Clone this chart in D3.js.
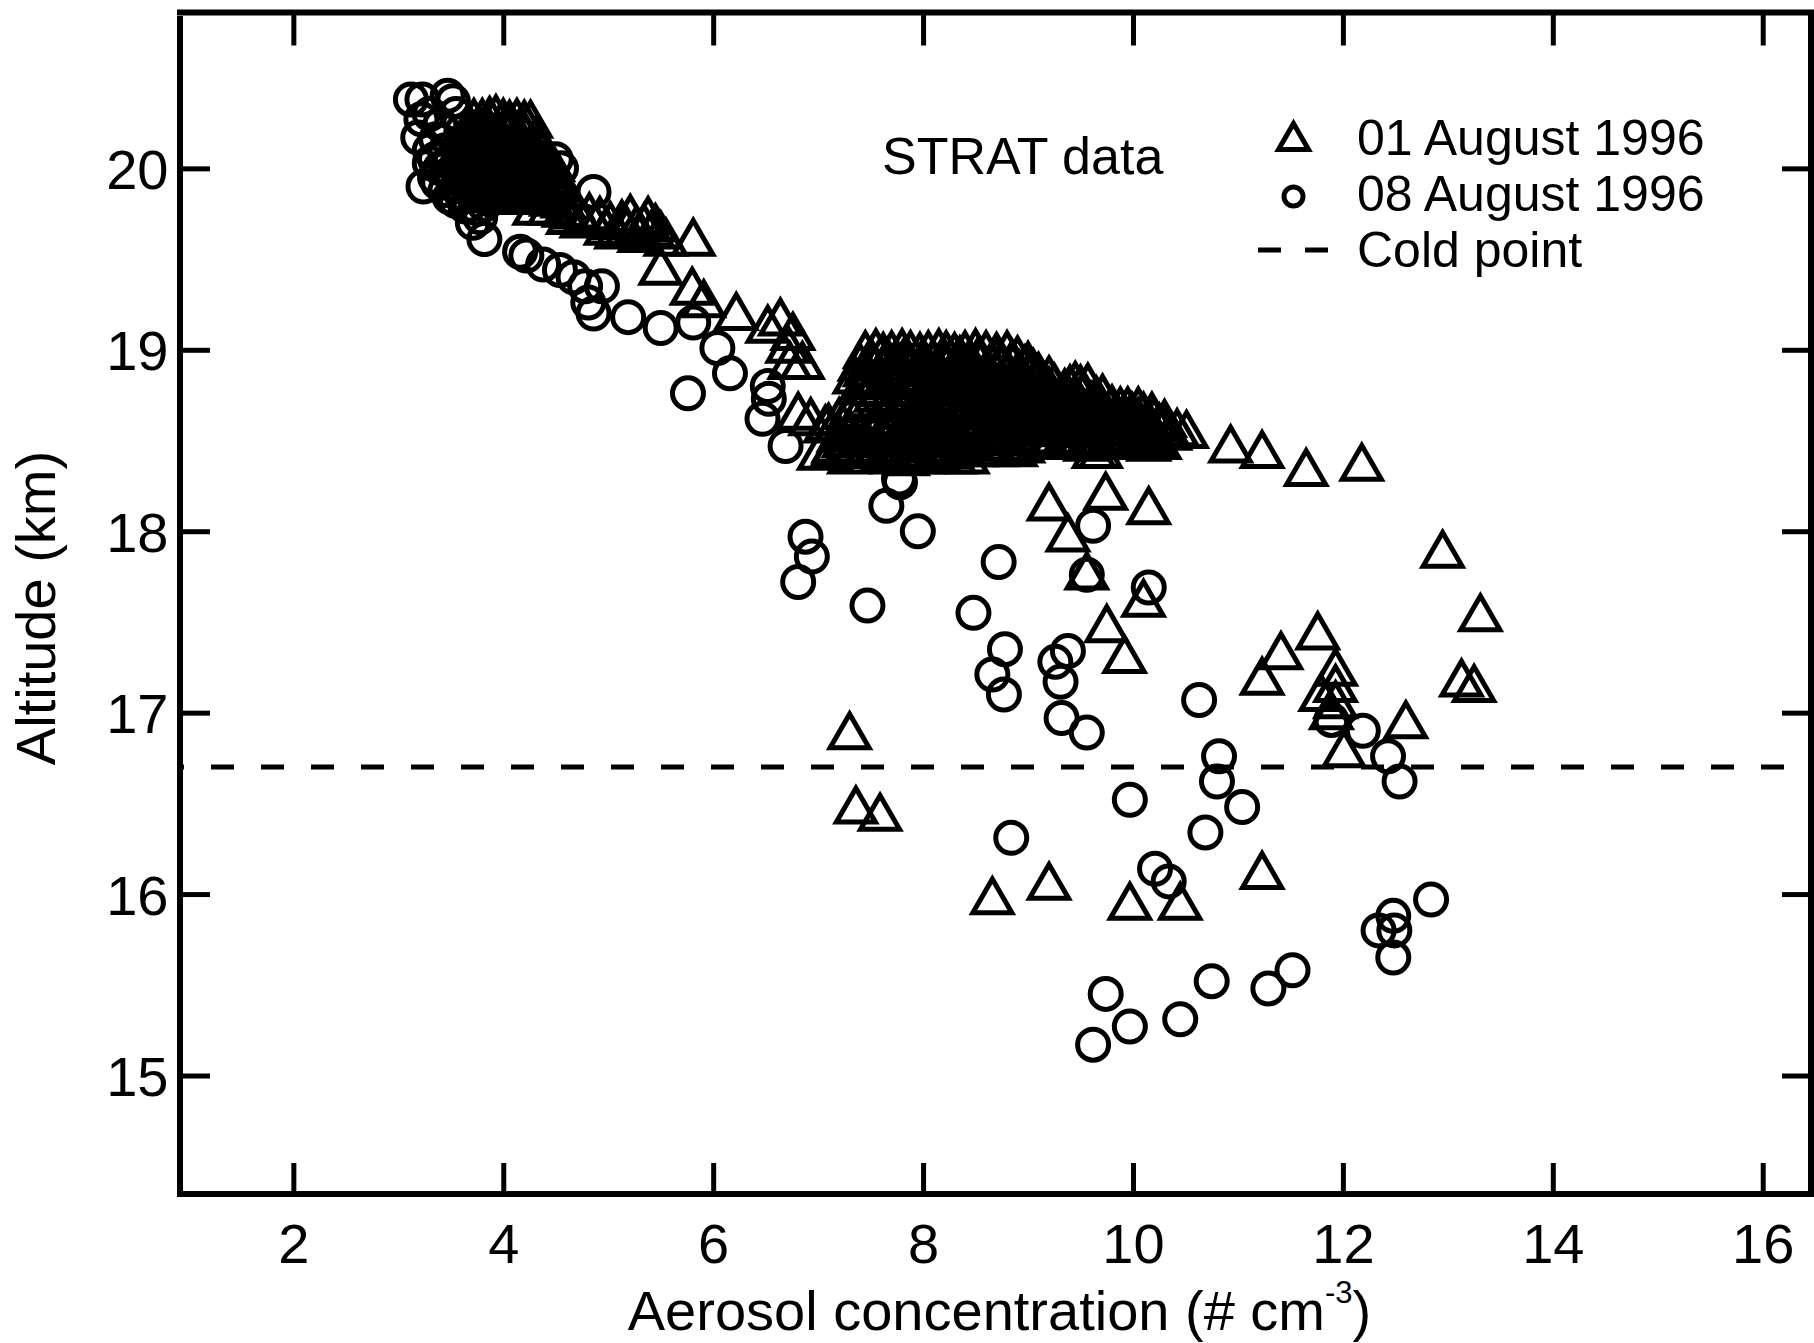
<!DOCTYPE html>
<html>
<head>
<meta charset="utf-8">
<script src="https://cdn.jsdelivr.net/npm/d3@7"></script>
<style>
  html, body { margin: 0; padding: 0; background: #fff; }
  svg { display: block; }
  text { font-family: "Liberation Sans", Arial, Helvetica, sans-serif; fill: #000; }
</style>
</head>
<body>
<script>
// STRAT aerosol profiles: [concentration (# cm^-3), altitude (km)]
const aug01 = [
  // upper cluster
  [3.72,20.28],[3.80,20.28],[3.87,20.29],[3.93,20.30],[4.00,20.28],[4.06,20.27],[4.13,20.28],[4.20,20.27],[4.26,20.27],
  [3.68,20.24],[3.84,20.25],[4.02,20.24],[4.17,20.23],
  [3.64,20.21],[3.71,20.21],[3.79,20.22],[3.88,20.21],[3.96,20.20],[4.05,20.21],[4.14,20.20],[4.22,20.19],[4.31,20.18],
  [3.66,20.17],[3.82,20.17],[3.99,20.16],[4.16,20.16],[4.34,20.15],
  [3.62,20.14],[3.70,20.14],[3.78,20.13],[3.86,20.14],[3.95,20.13],[4.03,20.14],[4.12,20.13],[4.21,20.12],[4.30,20.11],[4.37,20.10],
  [3.64,20.10],[3.81,20.10],[3.98,20.09],[4.15,20.09],[4.33,20.08],[4.42,20.07],
  [3.60,20.07],[3.68,20.07],[3.77,20.06],[3.85,20.07],[3.94,20.06],[4.02,20.07],[4.11,20.06],[4.20,20.05],[4.29,20.05],[4.38,20.04],[4.47,20.03],
  [3.63,20.03],[3.81,20.03],[4.00,20.02],[4.19,20.02],[4.38,20.01],
  [3.58,20.00],[3.67,20.00],[3.76,19.99],[3.86,20.00],[3.95,19.99],[4.05,20.00],[4.14,19.99],[4.24,19.98],[4.33,19.97],[4.43,19.96],[4.52,19.95],
  [3.66,19.96],[3.88,19.96],[4.10,19.95],[4.31,19.94],[4.50,19.92],
  [3.62,19.93],[3.72,19.93],[3.83,19.92],[3.94,19.93],[4.05,19.92],[4.16,19.91],[4.27,19.91],[4.38,19.90],[4.49,19.89],[4.58,19.88],
  [3.78,19.89],[4.00,19.89],[4.20,19.88],[4.42,19.87],
  [3.86,19.86],[3.98,19.86],[4.10,19.85],[4.22,19.86],[4.34,19.85],[4.46,19.84],[4.57,19.83],[4.66,19.82],
  [4.30,19.79],[4.44,19.79],[4.58,19.78],[4.70,19.77],[4.82,19.76],[4.62,19.74],[4.75,19.72],
  // descending trail
  [4.92,19.74],[5.02,19.71],[5.13,19.72],[5.21,19.75],[5.27,19.69],[5.34,19.70],[5.42,19.67],[5.50,19.66],
  [4.98,19.68],[5.08,19.66],[5.18,19.68],[5.30,19.64],[5.45,19.70],[5.55,19.62],[5.38,19.74],
  [5.81,19.62],[5.50,19.46],[5.80,19.35],[5.91,19.28],[6.22,19.21],[6.52,19.14],[6.64,19.18],[6.76,19.10],
  [6.71,19.03],[6.73,18.94],[6.85,18.94],[6.81,18.66],[6.93,18.63],[7.07,18.59],[7.14,18.46],[7.01,18.44],
  // main layer near 18.4-19.0 km
  [7.45,19.00],[7.55,19.01],[7.62,18.99],[7.70,19.00],[7.80,19.01],[7.88,19.00],[7.97,18.99],[8.05,19.00],[8.15,19.01],
  [8.22,19.00],[8.30,18.99],[8.40,19.00],[8.50,19.01],[8.60,19.00],[8.70,18.99],[8.80,19.00],[8.90,18.97],
  [7.50,18.96],[7.66,18.96],[7.83,18.97],[8.00,18.96],[8.18,18.96],[8.35,18.97],[8.52,18.96],[8.70,18.96],[8.85,18.95],[9.00,18.94],
  [7.40,18.93],[7.52,18.94],[7.75,18.93],[7.85,18.92],[8.00,18.93],[8.10,18.94],[8.20,18.93],[8.35,18.92],[8.45,18.93],
  [8.55,18.94],[8.65,18.93],[8.75,18.92],[8.85,18.93],[8.97,18.92],[9.05,18.90],
  [7.45,18.90],[7.62,18.90],[7.95,18.90],[8.15,18.89],[8.30,18.90],[8.48,18.90],[8.60,18.89],[8.80,18.90],[8.92,18.89],[9.10,18.88],
  [7.35,18.86],[7.48,18.85],[7.90,18.86],[8.00,18.87],[8.12,18.86],[8.25,18.85],[8.38,18.86],[8.50,18.87],[8.62,18.86],
  [8.75,18.85],[8.88,18.86],[9.00,18.87],[9.10,18.85],[9.20,18.86],
  [7.42,18.83],[7.55,18.83],[7.85,18.83],[8.05,18.82],[8.18,18.83],[8.40,18.83],[8.55,18.82],[8.68,18.83],[8.90,18.83],
  [9.05,18.82],[9.25,18.82],[9.40,18.81],[9.50,18.81],
  [7.50,18.80],[7.60,18.79],[7.95,18.80],[8.08,18.81],[8.20,18.80],[8.32,18.79],[8.45,18.80],[8.58,18.81],[8.70,18.80],
  [8.82,18.79],[8.95,18.80],[9.08,18.81],[9.20,18.80],[9.35,18.79],[9.45,18.83],[9.57,18.82],
  [7.55,18.76],[7.88,18.76],[8.00,18.77],[8.15,18.76],[8.30,18.76],[8.50,18.77],[8.62,18.76],[8.78,18.76],[8.90,18.75],
  [9.05,18.76],[9.22,18.76],[9.38,18.75],[9.52,18.76],[9.65,18.75],
  [7.45,18.73],[7.80,18.72],[7.95,18.73],[8.10,18.74],[8.25,18.73],[8.40,18.72],[8.55,18.73],[8.70,18.74],[8.85,18.73],
  [9.00,18.72],[9.15,18.73],[9.30,18.74],[9.45,18.73],[9.60,18.72],[9.71,18.76],
  [7.35,18.70],[7.85,18.70],[8.00,18.70],[8.15,18.69],[8.30,18.70],[8.45,18.70],[8.60,18.69],[8.75,18.70],[8.90,18.70],
  [9.05,18.69],[9.20,18.70],[9.35,18.70],[9.50,18.69],[9.65,18.70],[9.80,18.70],[9.95,18.69],[10.05,18.69],
  [7.30,18.67],[7.90,18.67],[8.05,18.68],[8.20,18.67],[8.35,18.66],[8.50,18.67],[8.65,18.68],[8.80,18.67],[8.95,18.66],
  [9.10,18.67],[9.25,18.68],[9.40,18.67],[9.55,18.66],[9.70,18.67],[9.88,18.69],[9.99,18.66],[10.10,18.66],[10.18,18.66],
  [7.20,18.63],[7.62,18.63],[7.78,18.63],[8.55,18.63],[8.72,18.64],[8.88,18.63],[9.02,18.63],[9.18,18.64],[9.32,18.63],
  [9.48,18.63],[9.62,18.64],[9.78,18.63],[9.92,18.63],[10.05,18.63],[10.20,18.63],[10.30,18.62],
  [7.10,18.60],[7.55,18.60],[7.70,18.61],[7.85,18.60],[8.50,18.60],[8.65,18.61],[8.80,18.60],[8.95,18.59],[9.10,18.60],
  [9.25,18.61],[9.40,18.60],[9.55,18.59],[9.70,18.60],[9.85,18.61],[10.00,18.60],[10.12,18.59],[10.25,18.60],[10.30,18.60],
  [7.30,18.57],[7.50,18.57],[7.68,18.57],[7.82,18.58],[7.98,18.57],[8.12,18.57],[8.28,18.58],[8.42,18.57],[8.60,18.57],
  [8.80,18.57],[9.00,18.57],[9.20,18.58],[9.42,18.57],[9.60,18.57],[9.78,18.57],[9.95,18.58],[10.12,18.57],[10.28,18.57],[10.42,18.57],
  [7.20,18.54],[7.40,18.55],[7.60,18.54],[7.75,18.53],[7.90,18.54],[8.05,18.55],[8.20,18.54],[8.35,18.53],[8.50,18.54],
  [8.70,18.55],[8.90,18.54],[9.10,18.53],[9.35,18.53],[9.50,18.52],[9.65,18.53],[9.85,18.54],[10.05,18.55],[10.20,18.54],
  [10.35,18.55],[10.51,18.56],
  [7.25,18.51],[7.45,18.51],[7.65,18.51],[7.80,18.51],[7.95,18.52],[8.12,18.51],[8.28,18.51],[8.45,18.51],[8.70,18.52],
  [8.88,18.52],[9.05,18.52],[9.25,18.52],[9.45,18.51],[9.62,18.52],[9.78,18.52],[9.95,18.52],[10.08,18.51],[10.22,18.52],
  [7.15,18.48],[7.35,18.48],[7.55,18.47],[7.72,18.48],[7.88,18.49],[8.05,18.48],[8.20,18.47],[8.35,18.48],[8.62,18.49],
  [8.80,18.49],[8.95,18.48],[9.10,18.50],[9.38,18.50],[9.55,18.49],[9.69,18.45],[9.85,18.50],[10.15,18.49],[10.25,18.50],
  [7.25,18.45],[7.45,18.45],[7.62,18.44],[7.78,18.45],[7.95,18.45],[8.10,18.44],[8.25,18.45],[8.50,18.46],[8.70,18.46],[8.88,18.46],
  [7.30,18.42],[7.70,18.42],[7.85,18.41],[8.00,18.42],[8.15,18.43],[8.30,18.42],[8.42,18.42],
  // right edge of the layer
  [10.93,18.48],[11.23,18.45],[11.65,18.35],[12.18,18.38],[9.63,18.45],
  // scattered lower points
  [9.74,18.22],[9.20,18.16],[10.15,18.14],[9.38,17.99],[9.56,17.78],[10.10,17.63],[9.75,17.49],[9.92,17.32],
  [12.95,17.90],[13.31,17.55],[11.76,17.45],[11.41,17.34],[11.23,17.20],[11.93,17.25],[11.93,17.16],[11.79,17.11],
  [11.93,17.07],[11.89,17.01],[12.01,16.80],[12.60,16.96],[13.13,17.19],[13.25,17.16],
  [7.30,16.90],[7.36,16.49],[7.59,16.45],[8.66,15.99],[9.20,16.07],[9.97,15.96],[10.45,15.96],[11.23,16.13]
];

const aug08 = [
  // upper cluster
  [3.12,20.38],[3.23,20.38],[3.47,20.40],[3.52,20.37],[3.30,20.30],[3.22,20.27],[3.40,20.24],[3.19,20.17],[3.36,20.16],
  [3.45,20.10],[3.30,20.03],[3.40,20.00],[3.50,20.04],[3.24,19.90],[3.38,19.92],[3.49,19.84],[3.58,19.90],[3.64,19.79],
  [3.72,19.86],[3.78,19.73],[3.71,19.70],[3.82,19.61],[3.90,19.84],[4.00,19.88],[4.12,19.86],[4.25,19.92],[4.36,19.98],
  [4.50,20.05],[4.55,20.00],[3.60,20.20],[3.70,20.10],[3.85,20.02],[4.00,20.00],[4.20,20.05],[4.30,20.12],[3.55,20.30],
  [3.65,20.00],[3.95,20.15],[3.35,19.95],[3.45,19.88],[3.55,19.82],[3.60,19.86],[3.68,19.80],[3.75,19.78],[3.50,19.97],
  [3.30,20.10],[3.35,20.05],[3.82,19.80],[4.86,19.87],
  // descending trail
  [4.16,19.54],[4.22,19.52],[4.38,19.47],[4.54,19.44],[4.67,19.40],[4.78,19.35],[4.94,19.35],[4.81,19.26],[4.86,19.20],
  [5.19,19.18],[5.50,19.12],[5.81,19.15],[6.04,19.01],[6.16,18.87],[5.76,18.76],[6.52,18.80],[6.53,18.73],[6.47,18.62],
  [6.69,18.47],[7.24,18.42],[7.28,18.44],[7.77,18.29],[7.78,18.27],[7.65,18.14],[7.95,18.00],
  // scattered lower points
  [6.88,17.97],[6.94,17.86],[6.81,17.72],[7.47,17.59],[8.72,17.83],[8.48,17.55],[8.78,17.35],[8.66,17.21],[8.77,17.10],
  [9.38,17.34],[9.26,17.28],[9.31,17.17],[9.32,16.97],[9.56,16.89],[9.62,18.03],[9.56,17.76],[10.15,17.69],[10.63,17.07],
  [10.82,16.76],[10.80,16.62],[11.04,16.48],[10.69,16.34],[9.97,16.52],[8.84,16.31],[10.21,16.14],[10.34,16.07],
  [11.89,16.96],[12.19,16.90],[12.43,16.76],[12.54,16.62],[12.84,15.97],[12.48,15.88],[12.34,15.80],[12.49,15.80],
  [12.48,15.65],[11.52,15.58],[11.29,15.48],[10.75,15.52],[10.45,15.31],[9.97,15.27],[9.74,15.45],[9.62,15.17]
];

const coldPointAlt = 16.7;
const xTicks = [2, 4, 6, 8, 10, 12, 14, 16];
const yTicks = [15, 16, 17, 18, 19, 20];
const seriesLabels = ["01 August 1996", "08 August 1996", "Cold point"];

const W = 1814, H = 1343;
const svg = d3.select("body").append("svg").attr("width", W).attr("height", H);

const x = d3.scaleLinear().domain([0.92, 16.46]).range([180, 1811]);
const y = d3.scaleLinear().domain([14.347, 20.859]).range([1194, 12.5]);

// open triangle centred on its bounding box
const triangleType = {
  draw(context, size) {
    const s = Math.sqrt(size);
    const h = s * Math.sqrt(3) / 2;
    context.moveTo(0, -h / 2);
    context.lineTo(s / 2, h / 2);
    context.lineTo(-s / 2, h / 2);
    context.closePath();
  }
};
const triPath = d3.symbol(triangleType, 39 * 39)();
const circPath = d3.symbol(d3.symbolCircle, Math.PI * 15.5 * 15.5)();

// cold point tropopause
svg.append("line")
  .attr("x1", x.range()[0]).attr("x2", x.range()[1])
  .attr("y1", y(coldPointAlt)).attr("y2", y(coldPointAlt))
  .attr("stroke", "#000").attr("stroke-width", 5)
  .attr("stroke-dasharray", "23 27").attr("stroke-dashoffset", 19);

// data markers
svg.append("g").selectAll("path").data(aug01).join("path")
  .attr("d", triPath)
  .attr("transform", d => `translate(${x(d[0])},${y(d[1])})`)
  .attr("fill", "none").attr("stroke", "#000").attr("stroke-width", 5);

svg.append("g").selectAll("path").data(aug08).join("path")
  .attr("d", circPath)
  .attr("transform", d => `translate(${x(d[0])},${y(d[1])})`)
  .attr("fill", "none").attr("stroke", "#000").attr("stroke-width", 5);

// axes (ticks point inward on all four sides)
function styleAxis(g) {
  g.select(".domain").remove();
  g.selectAll(".tick line").attr("stroke", "#000").attr("stroke-width", 5);
  g.selectAll(".tick text").attr("font-size", 56).attr("font-family", null);
}

svg.append("g").attr("transform", "translate(0,1194)")
  .call(d3.axisBottom(x).tickValues(xTicks).tickSizeInner(-31).tickSizeOuter(0).tickPadding(29).tickFormat(d3.format("d")))
  .call(styleAxis);

svg.append("g").attr("transform", "translate(180,0)")
  .call(d3.axisLeft(y).tickValues(yTicks).tickSizeInner(-30).tickSizeOuter(0).tickPadding(11.5).tickFormat(d3.format("d")))
  .call(styleAxis)
  .call(g => g.selectAll(".tick text").attr("dy", "0.36em"));

svg.append("g").attr("transform", "translate(0,12.5)")
  .call(d3.axisTop(x).tickValues(xTicks).tickSizeInner(-33).tickSizeOuter(0).tickFormat(""))
  .call(styleAxis);

svg.append("g").attr("transform", "translate(1811,0)")
  .call(d3.axisRight(y).tickValues(yTicks).tickSizeInner(-29).tickSizeOuter(0).tickFormat(""))
  .call(styleAxis);

// frame
const frame = svg.append("g").attr("stroke", "#000").attr("stroke-width", 6);
frame.append("line").attr("x1", 177).attr("x2", 1814).attr("y1", 12.5).attr("y2", 12.5);
frame.append("line").attr("x1", 180).attr("x2", 180).attr("y1", 16).attr("y2", 1197);
frame.append("line").attr("x1", 177).attr("x2", 1814).attr("y1", 1194).attr("y2", 1194);
frame.append("line").attr("x1", 1811).attr("x2", 1811).attr("y1", 10).attr("y2", 1197);

// axis titles
const xt = svg.append("text").attr("x", 999.5).attr("y", 1330)
  .attr("text-anchor", "middle").attr("font-size", 56);
xt.append("tspan").text("Aerosol concentration (# cm");
xt.append("tspan").attr("font-size", 31).attr("dy", -27).text("-3");
xt.append("tspan").attr("dy", 27).text(")");

svg.append("text")
  .attr("transform", "translate(55,608) rotate(-90)")
  .attr("text-anchor", "middle").attr("font-size", 56)
  .text("Altitude (km)");

// annotation
svg.append("text").attr("x", 882).attr("y", 174).attr("font-size", 52).text("STRAT data");

// legend
const legend = svg.append("g");
legend.append("path").attr("d", d3.symbol(triangleType, 30 * 30)())
  .attr("transform", "translate(1293.5,136.5)")
  .attr("fill", "none").attr("stroke", "#000").attr("stroke-width", 5);
legend.append("path").attr("d", d3.symbol(d3.symbolCircle, Math.PI * 9.5 * 9.5)())
  .attr("transform", "translate(1293.5,196.5)")
  .attr("fill", "none").attr("stroke", "#000").attr("stroke-width", 5);
legend.append("line").attr("x1", 1258).attr("x2", 1328).attr("y1", 250).attr("y2", 250)
  .attr("stroke", "#000").attr("stroke-width", 5).attr("stroke-dasharray", "23 24");
legend.selectAll("text").data(seriesLabels).join("text")
  .attr("x", 1357).attr("y", (d, i) => 155 + i * 56)
  .attr("font-size", 50).text(d => d);
</script>
</body>
</html>
